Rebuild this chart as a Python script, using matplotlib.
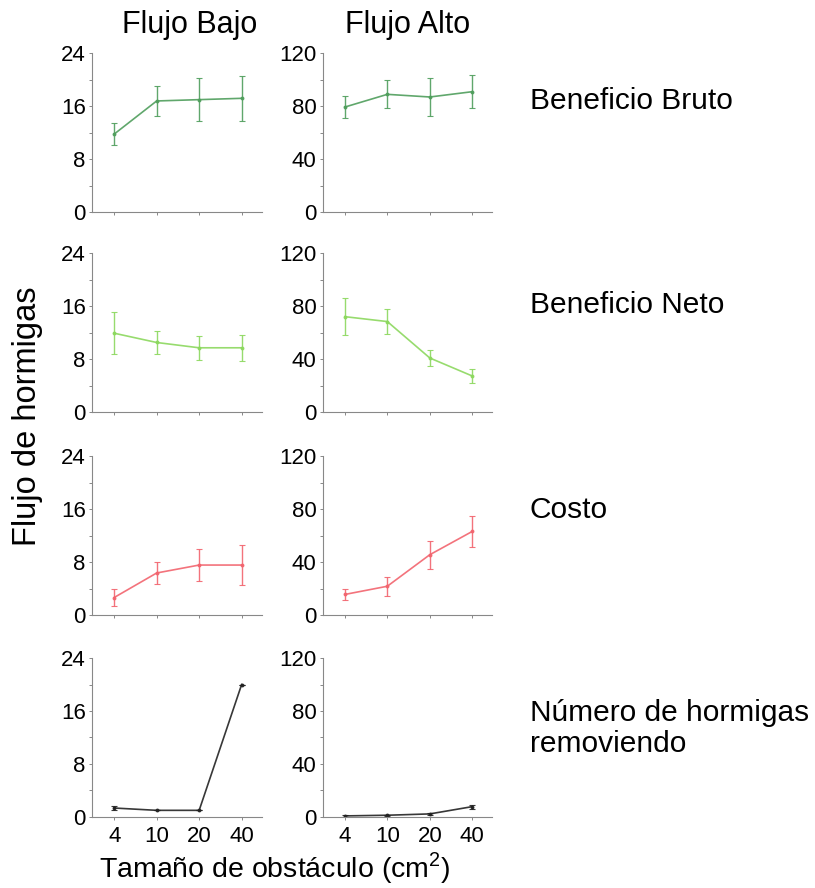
import matplotlib.pyplot as plt

plt.rcParams['font.family'] = ['Liberation Sans', 'DejaVu Sans']
plt.rcParams['mathtext.fontset'] = 'custom'
plt.rcParams['mathtext.rm'] = 'Liberation Sans'

sizes = ['4', '10', '20', '40']
columns = ['Flujo Bajo', 'Flujo Alto']
rows = ['Beneficio Bruto', 'Beneficio Neto', 'Costo', 'Número de hormigas\nremoviendo']
colors = ['#4f9e5c', '#8cd85e', '#f2646e', '#222222']

# flujo bajo
bruto_bajo = [11.8, 16.8, 17.0, 17.2]
bruto_bajo_err = [1.7, 2.2, 3.3, 3.4]
neto_bajo = [11.9, 10.5, 9.7, 9.7]
neto_bajo_err = [3.2, 1.8, 1.8, 2.0]
costo_bajo = [2.7, 6.4, 7.6, 7.6]
costo_bajo_err = [1.25, 1.6, 2.4, 3.05]
num_bajo = [1.35, 1.0, 1.0, 20.0]
num_bajo_err = [0.35, 0.0, 0.0, 0.0]

# flujo alto
bruto_alto = [79.4, 89.0, 87.0, 91.0]
bruto_alto_err = [8.0, 10.5, 14.5, 12.6]
neto_alto = [72.0, 68.3, 40.8, 27.2]
neto_alto_err = [14.0, 9.5, 6.3, 5.3]
costo_alto = [15.8, 22.0, 45.8, 63.4]
costo_alto_err = [4.4, 7.3, 10.7, 12.0]
num_alto = [0.8, 1.3, 2.3, 7.8]
num_alto_err = [0.5, 0.4, 0.5, 1.6]

data = [
    [(bruto_bajo, bruto_bajo_err), (bruto_alto, bruto_alto_err)],
    [(neto_bajo, neto_bajo_err), (neto_alto, neto_alto_err)],
    [(costo_bajo, costo_bajo_err), (costo_alto, costo_alto_err)],
    [(num_bajo, num_bajo_err), (num_alto, num_alto_err)],
]

fig = plt.figure(figsize=(8.15, 8.88), dpi=100)
lefts = [0.113, 0.396]
bottoms = [0.761, 0.536, 0.307, 0.080]
w, h = 0.208, 0.179
ymax = [24, 120]
gray = '#888888'

for r in range(4):
    for c in range(2):
        ax = fig.add_axes([lefts[c], bottoms[r], w, h])
        y, e = data[r][c]
        x = range(len(sizes))
        ax.errorbar(x, y, yerr=e, color=colors[r], lw=1.2, elinewidth=1.0,
                    capsize=2, capthick=0.8, marker='o', ms=1.8, alpha=0.9)
        ax.set_xlim(-0.52, 3.47)
        ax.set_ylim(0, ymax[c])
        step = ymax[c] / 3
        ax.set_yticks([0, step, 2 * step, ymax[c]])
        ax.set_yticks([step / 2, step * 1.5, step * 2.5], minor=True)
        ax.set_yticklabels([f'{v:g}' for v in [0, step, 2 * step, ymax[c]]])
        ax.set_xticks(list(x))
        if r == 3:
            ax.set_xticklabels(sizes)
        else:
            ax.set_xticklabels([])
        for s in ['top', 'right']:
            ax.spines[s].set_visible(False)
        for s in ['left', 'bottom']:
            ax.spines[s].set_color(gray)
            ax.spines[s].set_linewidth(0.8)
        ax.tick_params(which='both', color=gray, length=2.5, width=0.7,
                       labelsize=16, pad=2)
        ax.tick_params(axis='x', labelsize=16, pad=4)

title_x = [0.233, 0.5]
for c, name in enumerate(columns):
    fig.text(title_x[c], 0.972, name, ha='center', va='center', fontsize=22)

row_y = [0.886, 0.657, 0.426, 0.180]
for r, name in enumerate(rows):
    fig.text(0.65, row_y[r], name, ha='left', va='center', fontsize=21.5,
             linespacing=1.15)

fig.text(0.034, 0.531, 'Flujo de hormigas', rotation=90, ha='center',
         va='center', fontsize=23.5)
fig.text(0.337, 0.022, 'Tamaño de obstáculo (cm$^{2}$)', ha='center',
         va='center', fontsize=20.5)

fig.savefig('out.png', dpi=100)
